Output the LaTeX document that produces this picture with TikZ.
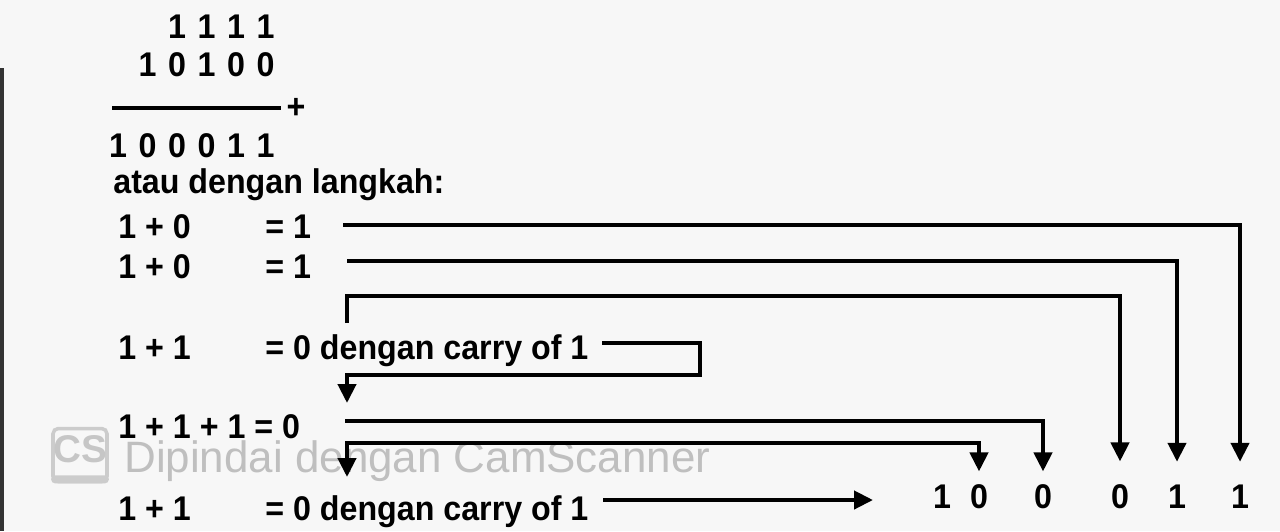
\documentclass[tikz,border=0pt]{standalone}
\usepackage{fontspec}
\setmainfont{Liberation Sans}[FakeStretch=0.94]
\newfontfamily\wmfont{Liberation Sans}
\usetikzlibrary{arrows.meta}

\tikzset{
  arr/.tip={Triangle[length=0.38cm,width=0.36cm]},
  sum/.style={font=\bfseries\fontsize{19.5}{23}\selectfont, inner sep=0pt},
  lbl/.style={sum, anchor=base west},
  link/.style={line width=2.4pt, -arr},
}

\begin{document}
\begin{tikzpicture}[x=0.02cm, y=-0.02cm]
\useasboundingbox (0,0) rectangle (1280,531);
\fill[black!3] (0,0) rectangle (1280,531);
\fill[black!80] (0,68) rectangle (4,531);

% the sum written out
\foreach \d [count=\i] in {1,1,1,1}
  \node[sum, anchor=base] (a\i) at ({118+29.5*(\i+1)},38) {\d};
\foreach \d [count=\i] in {1,0,1,0,0}
  \node[sum, anchor=base] (b\i) at ({118+29.5*\i},76) {\d};
\node[sum] (plus) at (296,108) {+};
\coordinate (rule) at (112,108);
\draw[line width=2.4pt] (rule) -- ([xshift=-3pt]plus.west);
\foreach \d [count=\i] in {1,0,0,0,1,1}
  \node[sum, anchor=base] (s\i) at ({118+29.5*(\i-1)},157) {\d};

\node[lbl] (ket) at (113,193) {atau dengan langkah:};

% steps
\node[lbl] (l1) at (118,238) {1 + 0};
\node[lbl] (e1) at (265,238) {= 1};
\node[lbl] (l2) at (118,278) {1 + 0};
\node[lbl] (e2) at (265,278) {= 1};
\node[lbl] (l3) at (118,359) {1 + 1};
\node[lbl] (e3) at (265,359) {= 0 dengan carry of 1};
\node[lbl] (l4) at (118,438) {1 + 1 + 1 = 0};
\node[lbl] (l5) at (118,520) {1 + 1};
\node[lbl] (e5) at (265,520) {= 0 dengan carry of 1};

% result
\foreach \d/\x [count=\i] in {1/942,0/979,0/1043,0/1120,1/1177,1/1240}
  \node[sum, anchor=base, inner ysep=7pt] (r\i) at (\x,508) {\d};

% scanner mark
\node[draw=gray!40, fill=black!3, line width=2pt, rounded corners=3pt,
  minimum width=1.08cm, minimum height=1.06cm] (csbox) at (80,455) {};
\fill[gray!40, rounded corners=2pt] (csbox.south west) rectangle ([yshift=0.16cm]csbox.south east);
\node[text=gray!45, font=\wmfont\bfseries\fontsize{22}{24}\selectfont, inner sep=0pt] (cs) at (80,449) {CS};
\node[text=gray!50, font=\wmfont\fontsize{25}{30}\selectfont, anchor=base west, inner sep=0pt]
  (wm) at (124,472) {Dipindai dengan CamScanner};

% connectors
\coordinate (p1) at (343,225);
\coordinate (p2) at (347,261);
\coordinate (p3) at (347,323);
\coordinate (p4) at (602,343);
\coordinate (q4) at (347,403);
\coordinate (p5) at (345,421);
\coordinate (p6) at (347,477);
\coordinate (p7) at (603,500);
\coordinate (q7) at (873,500);

\draw[link, shorten >=0.2cm] (p1) -| (r6.north);
\draw[link, shorten >=0.2cm] (p2) -| (r5.north);
\draw[link, shorten >=0.2cm] (p3) -- ++(0,-27) -| (r4.north);
\draw[link] (p4) -- ++(98,0) -- ++(0,32) -| (q4);
\draw[link] (p5) -| (r3.north);
\draw[link, arr-arr] (p6) -- ++(0,-34) -| (r2.north);
\draw[link] (p7) -- (q7);

\end{tikzpicture}
\end{document}
